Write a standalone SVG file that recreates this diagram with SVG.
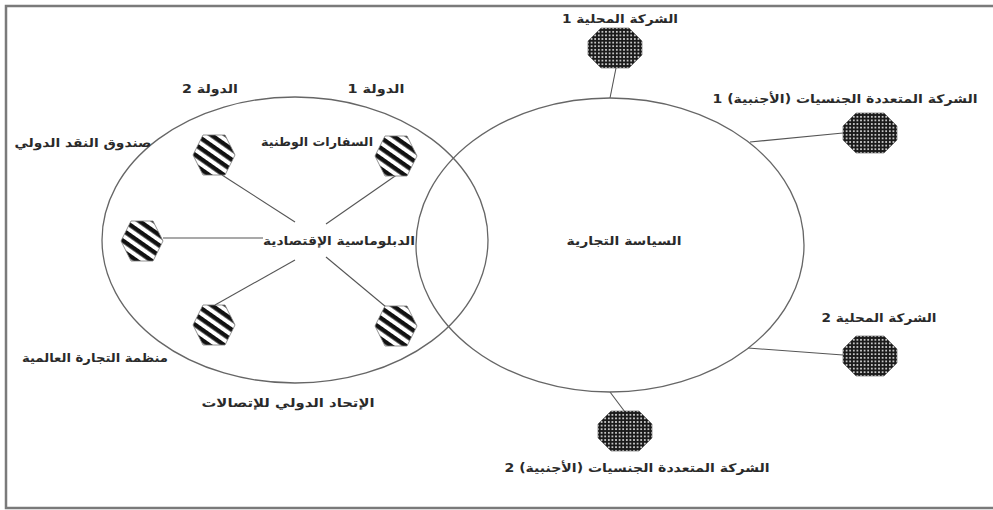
<svg xmlns="http://www.w3.org/2000/svg" xmlns:xlink="http://www.w3.org/1999/xlink" width="993" height="510" viewBox="0 0 993 510">
<style>
.frame{fill:none;stroke:#7a7a7a;stroke-width:2.5}
.ell{fill:none;stroke:#666;stroke-width:1.3}
.con{stroke:#555;stroke-width:1.1;fill:none}
.lbl{font-family:"DejaVu Sans",sans-serif;font-size:12px;font-weight:bold;fill:#2a2a2a;text-anchor:middle;direction:rtl}
.hex{fill:url(#stripes);stroke:#777;stroke-width:0.8}
.oct{fill:url(#dots);stroke:#555;stroke-width:0.6}
</style>
<defs>
<pattern id="stripes" patternUnits="userSpaceOnUse" width="8.5" height="8.5" patternTransform="rotate(35)">
<rect width="8.5" height="8.5" fill="#fff"/>
<rect width="8.5" height="4.4" fill="#111"/>
</pattern>
<pattern id="dots" patternUnits="userSpaceOnUse" width="3.6" height="3.6">
<rect width="3.6" height="3.6" fill="#1a1a1a"/>
<circle cx="1.8" cy="1.8" r="0.9" fill="#fff"/>
</pattern>
<path id="hexShape" d="M-21,0 L-11,-20 L11,-20 L21,0 L11,20 L-11,20 Z"/>
<path id="octShape" d="M-14,-20 L14,-20 L27,-7 L27,7 L14,20 L-14,20 L-27,7 L-27,-7 Z"/>
</defs>
<rect class="frame" x="6" y="6" width="995" height="502"/>
<g id="connectors">
<line class="con" x1="222" y1="175" x2="295" y2="222"/>
<line class="con" x1="398" y1="174" x2="326" y2="224"/>
<line class="con" x1="163" y1="238" x2="263" y2="238"/>
<line class="con" x1="215" y1="305" x2="295" y2="260"/>
<line class="con" x1="326" y1="257" x2="386" y2="307"/>
<line class="con" x1="616" y1="68" x2="610" y2="98"/>
<line class="con" x1="750" y1="142" x2="843" y2="133"/>
<line class="con" x1="748" y1="348" x2="843" y2="355"/>
<line class="con" x1="610" y1="392" x2="625" y2="412"/>
</g>
<g id="state2">
<ellipse class="ell" cx="295" cy="240" rx="193" ry="143"/>
<text class="lbl" x="210" y="93" textLength="56" lengthAdjust="spacingAndGlyphs">الدولة 2</text>
</g>
<g id="state1">
<ellipse class="ell" cx="610" cy="245" rx="194" ry="147"/>
<text class="lbl" x="376" y="93" textLength="57" lengthAdjust="spacingAndGlyphs">الدولة 1</text>
</g>
<g id="trade-policy">
<text class="lbl" x="624" y="245" textLength="115" lengthAdjust="spacingAndGlyphs">السياسة التجارية</text>
</g>
<g id="economic-diplomacy">
<text class="lbl" x="339" y="245" textLength="152" lengthAdjust="spacingAndGlyphs">الدبلوماسية الإقتصادية</text>
</g>
<g id="imf">
<use href="#hexShape" class="hex" x="214" y="155"/>
<text class="lbl" x="83" y="147" textLength="137" lengthAdjust="spacingAndGlyphs">صندوق النقد الدولي</text>
</g>
<g id="embassies">
<use href="#hexShape" class="hex" x="396" y="156"/>
<text class="lbl" x="317" y="146" textLength="112" lengthAdjust="spacingAndGlyphs">السفارات الوطنية</text>
</g>
<g id="left-node">
<use href="#hexShape" class="hex" x="142" y="241"/>
</g>
<g id="wto">
<use href="#hexShape" class="hex" x="214" y="325"/>
<text class="lbl" x="95" y="362" textLength="146" lengthAdjust="spacingAndGlyphs">منظمة التجارة العالمية</text>
</g>
<g id="itu">
<use href="#hexShape" class="hex" x="396" y="326"/>
<text class="lbl" x="288" y="407" textLength="173" lengthAdjust="spacingAndGlyphs">الإتحاد الدولي للإتصالات</text>
</g>
<g id="local1">
<use href="#octShape" class="oct" x="615" y="48"/>
<text class="lbl" x="620" y="23" textLength="116" lengthAdjust="spacingAndGlyphs">الشركة المحلية 1</text>
</g>
<g id="mnc1">
<use href="#octShape" class="oct" x="870" y="133"/>
<text class="lbl" x="845" y="103" textLength="265" lengthAdjust="spacingAndGlyphs">الشركة المتعددة الجنسيات (الأجنبية) 1</text>
</g>
<g id="local2">
<use href="#octShape" class="oct" x="870" y="356"/>
<text class="lbl" x="879" y="322" textLength="115" lengthAdjust="spacingAndGlyphs">الشركة المحلية 2</text>
</g>
<g id="mnc2">
<use href="#octShape" class="oct" x="625" y="431"/>
<text class="lbl" x="637" y="472" textLength="265" lengthAdjust="spacingAndGlyphs">الشركة المتعددة الجنسيات (الأجنبية) 2</text>
</g>
</svg>
